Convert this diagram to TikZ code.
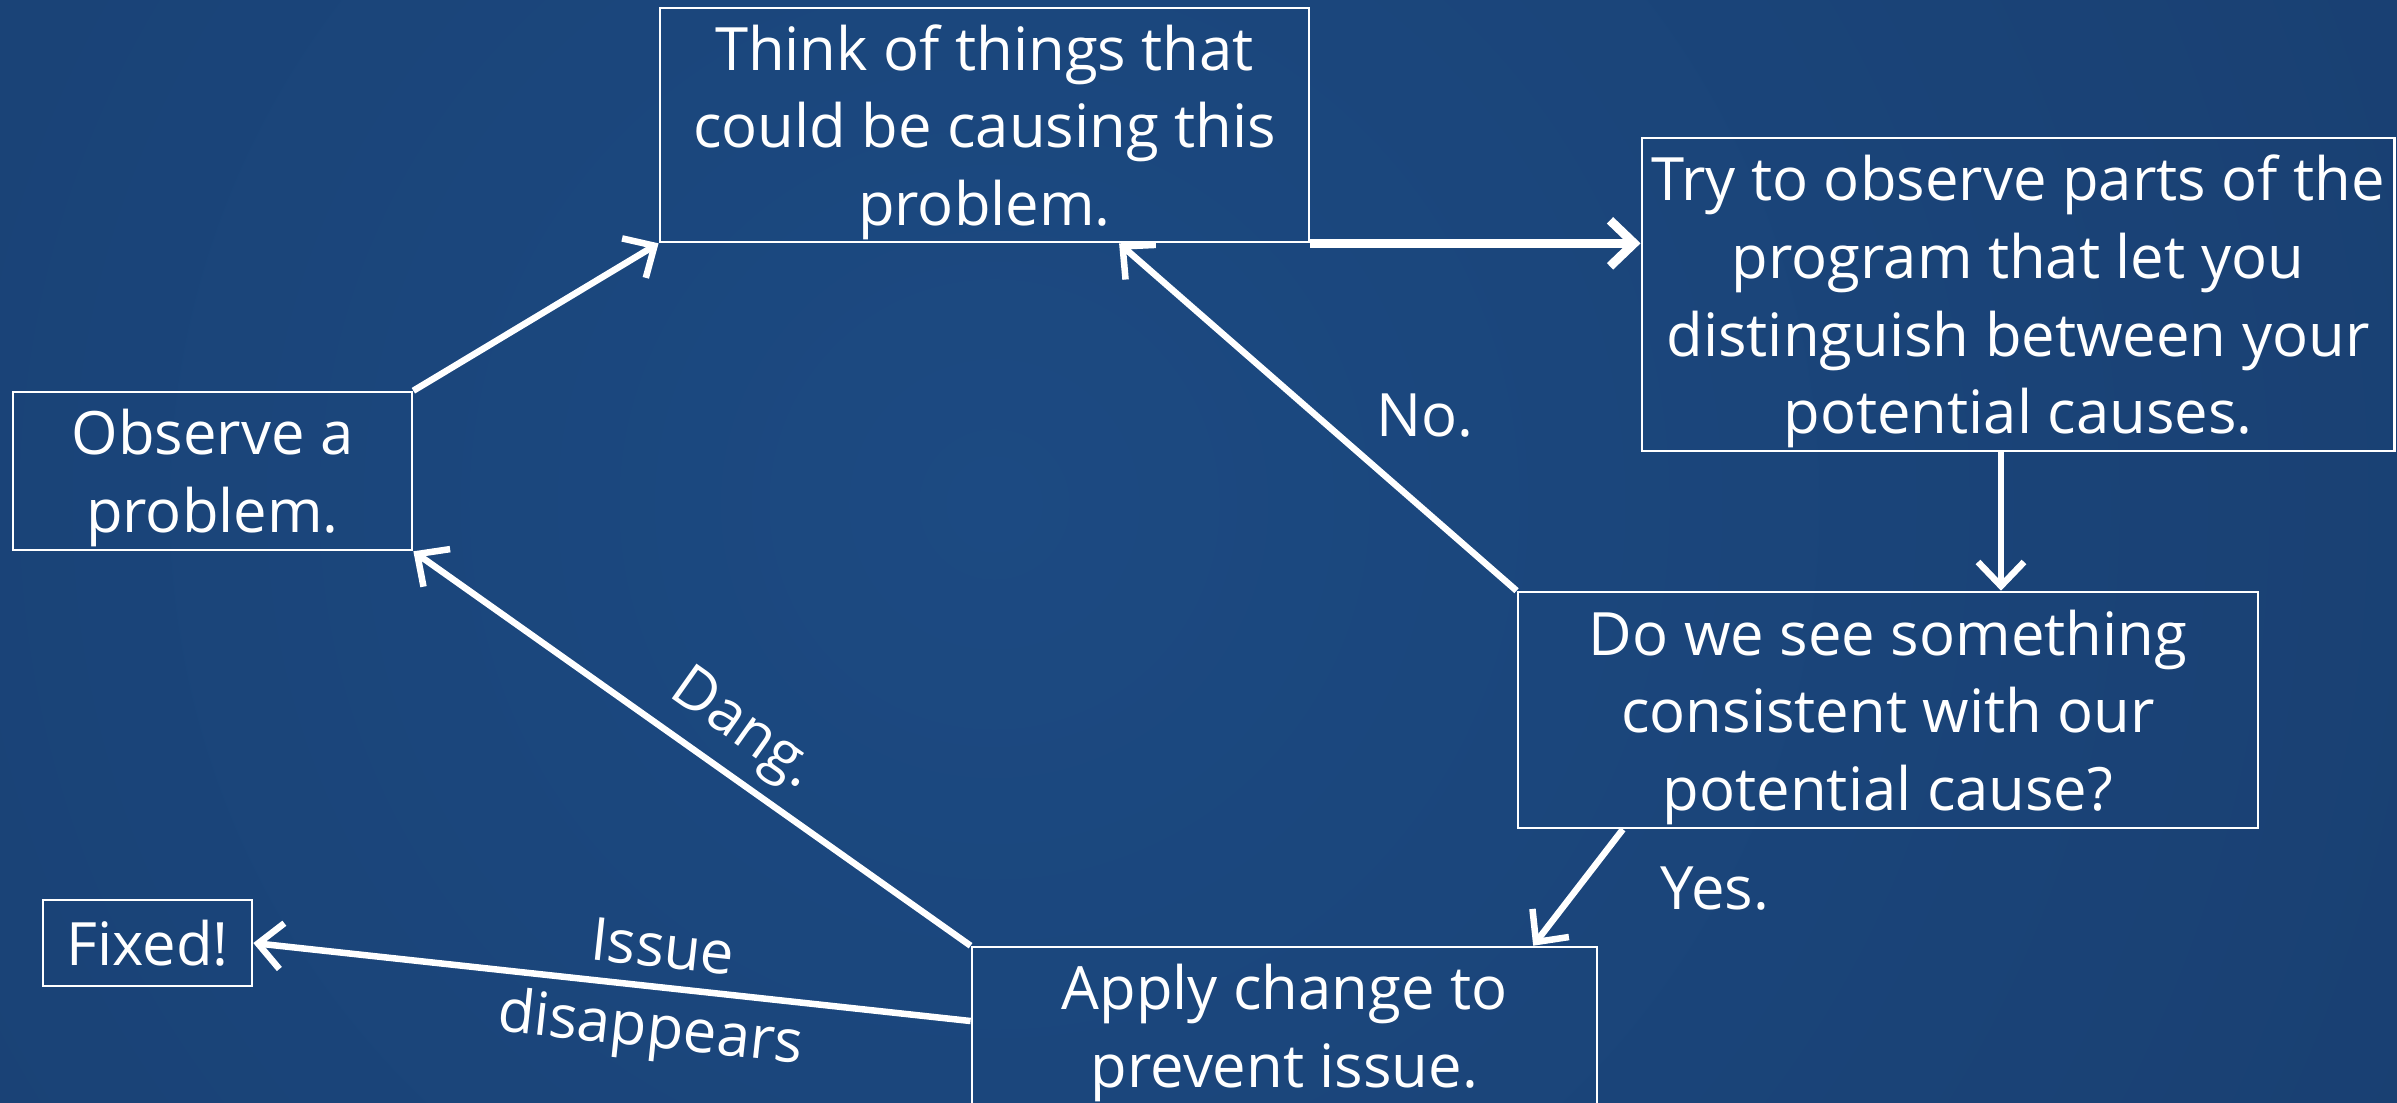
\documentclass[tikz,border=0pt]{standalone}
\usepackage{fontspec}
\setmainfont{Open Sans}
\usetikzlibrary{arrows.meta}
\definecolor{bgin}{RGB}{28,74,130}
\definecolor{bgout}{RGB}{22,52,96}
\pgfdeclareradialshading{bgglow}{\pgfpoint{0bp}{0bp}}{color(0bp)=(bgin); color(50bp)=(bgout)}
\tikzset{
  box/.style = {
    draw=white, line width=0.025cm, text=white, align=center,
    inner sep=0pt, text depth=0pt, font=\fontsize{17}{22.1}\selectfont
  },
  flow/.style = {
    draw=white, line width=0.065cm,
    -{Straight Barb[length=0.24cm,width=0.46cm]}
  },
  lbl/.style = {text=white, inner sep=0pt, font=\fontsize{17}{22.1}\selectfont}
}

\begin{document}
\begin{tikzpicture}[x=0.01cm,y=-0.01cm]
  \useasboundingbox (0,0) rectangle (2397,1102);
  % background
  \begin{scope}
    \clip (0,0) rectangle (2397,1102);
    \shade[shading=bgglow] (994,504) circle (1650);
  \end{scope}
  % steps
  \node[box, minimum width=6.49cm, minimum height=2.34cm] (think) at (984.5,125)
    {Think of things that\\could be causing this\\problem.};
  \node[box, minimum width=7.52cm, minimum height=3.13cm] (try) at (2018,294.5)
    {Try to observe parts of the\\program that let you\\distinguish between your\\potential causes.};
  \node[box, minimum width=3.99cm, minimum height=1.58cm] (observe) at (212.5,471)
    {Observe a\\problem.};
  \node[box, minimum width=7.40cm, minimum height=2.36cm] (check) at (1888,710)
    {Do we see something\\consistent with our\\potential cause?};
  \node[box, minimum width=6.25cm, minimum height=1.58cm] (apply) at (1284.5,1026)
    {Apply change to\\prevent issue.};
  \node[box, minimum width=2.09cm, minimum height=0.86cm] (fixed) at (147.5,943)
    {Fixed!};
  % connectors
  \draw[flow] (observe.north east) -- (think.south west);
  \draw[flow, line width=0.09cm] (think.south east) -- (think.south east -| try.west);
  \draw[flow] ([xshift=-0.17cm]try.south) -- ([xshift=-0.17cm]try.south |- check.north);
  \draw[flow] (check.north west) -- ([xshift=1.345cm]think.south);
  \draw[flow] ([xshift=-2.65cm]check.south) -- ([xshift=2.485cm]apply.north);
  \draw[flow] (apply.north west) -- (observe.south east)
    node[lbl, pos=0.455, sloped, above=0.115cm] (dang) {Dang.};
  \draw[flow] ([yshift=0.05cm]apply.west) -- (fixed.east)
    node[lbl, pos=0.435, sloped, above=0.16cm] (issue) {Issue}
    node[lbl, pos=0.44, sloped, below=0.12cm] (gone) {disappears};
  % answers
  \node[lbl] (no) at (1425,416) {No.};
  \node[lbl] (yes) at (1715,889) {Yes.};
\end{tikzpicture}
\end{document}
